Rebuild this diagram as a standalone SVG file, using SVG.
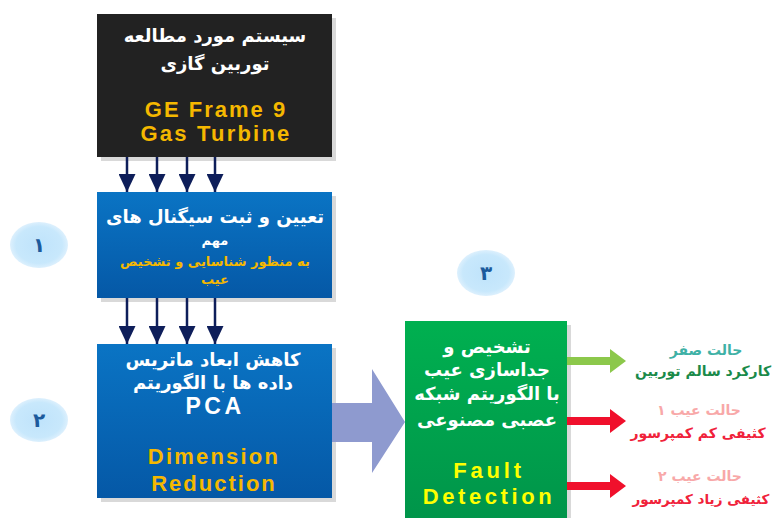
<svg xmlns="http://www.w3.org/2000/svg" width="774" height="518" viewBox="0 0 774 518">
<defs>
<linearGradient id="gBlue" x1="0" y1="0" x2="0" y2="1"><stop offset="0" stop-color="#0A74C4"/><stop offset="1" stop-color="#0558A6"/></linearGradient>
<linearGradient id="gGreen" x1="0" y1="0" x2="0" y2="1"><stop offset="0" stop-color="#00B050"/><stop offset="1" stop-color="#00954A"/></linearGradient>
<radialGradient id="gCirc" cx="0.5" cy="0.5" r="0.5"><stop offset="0" stop-color="#BFE3FB"/><stop offset="0.8" stop-color="#C8E8FC"/><stop offset="1" stop-color="#DDF0FD"/></radialGradient>
<marker id="ah" viewBox="0 0 18 17" refX="18" refY="8.5" markerWidth="18" markerHeight="17" markerUnits="userSpaceOnUse" orient="auto"><path d="M0,0 L18,8.5 L0,17 Z" fill="#0E1E5A"/></marker>
</defs>
<style>
.shadow{fill:#D9D9D9}
.fa{font-family:"DejaVu Sans",sans-serif;font-weight:bold;text-anchor:middle}
.en{font-family:"Liberation Sans",Arial,sans-serif;font-weight:bold;text-anchor:middle}
.w{fill:#FFFFFF}
.or{fill:#F5B800}
.ye{fill:#FFFF00}
.dl{stroke:#0E1E5A;stroke-width:2.5;fill:none}
.num{font-family:"DejaVu Sans",sans-serif;font-weight:bold;font-size:20px;fill:#1C5A9C;text-anchor:middle}
</style>
<rect width="774" height="518" fill="#FFFFFF"/>

<g id="node-system">
<rect class="shadow" x="101" y="18" width="235" height="143"/>
<rect x="97" y="14" width="235" height="143" fill="#222222"/>
<text class="fa w" x="215" y="42" font-size="18">سیستم مورد مطالعه</text>
<text class="fa w" x="215" y="70" font-size="18">توربین گازی</text>
<text class="en or" x="216" y="117" font-size="22" letter-spacing="2">GE Frame 9</text>
<text class="en or" x="216" y="141" font-size="22" letter-spacing="2.2">Gas Turbine</text>
</g>

<g id="node-signals">
<rect class="shadow" x="101" y="196" width="235" height="106"/>
<rect x="97" y="192" width="235" height="106" fill="url(#gBlue)"/>
<text class="fa w" x="215" y="223" font-size="18">تعیین و ثبت سیگنال های</text>
<text class="fa w" x="215" y="245" font-size="13">مهم</text>
<text class="fa or" x="215" y="266" font-size="13">به منظور شناسایی و تشخیص</text>
<text class="fa or" x="215" y="284" font-size="13">عیب</text>
</g>

<g id="node-pca">
<rect class="shadow" x="101" y="348" width="235" height="154"/>
<rect x="97" y="344" width="235" height="154" fill="url(#gBlue)"/>
<text class="fa w" x="213" y="366" font-size="18">کاهش ابعاد ماتریس</text>
<text class="fa w" x="213" y="389" font-size="18">داده ها با الگوریتم</text>
<text class="en w" x="215" y="414" font-size="23" letter-spacing="3.5">PCA</text>
<text class="en or" x="214" y="464" font-size="22" letter-spacing="2.2">Dimension</text>
<text class="en or" x="214" y="491" font-size="22" letter-spacing="2">Reduction</text>
</g>

<g id="node-fault">
<rect class="shadow" x="409" y="325" width="162" height="193"/>
<rect x="405" y="321" width="162" height="197" fill="url(#gGreen)"/>
<text class="fa w" x="487" y="353" font-size="18">تشخیص و</text>
<text class="fa w" x="487" y="376" font-size="18">جداسازی عیب</text>
<text class="fa w" x="487" y="400" font-size="18">با الگوریتم شبکه</text>
<text class="fa w" x="487" y="426" font-size="18">عصبی مصنوعی</text>
<text class="en ye" x="489" y="478" font-size="22" letter-spacing="3.8">Fault</text>
<text class="en ye" x="489" y="504" font-size="22" letter-spacing="3.6">Detection</text>
</g>

<g id="node-badge1">
<ellipse cx="39" cy="245" rx="29" ry="23" fill="url(#gCirc)"/>
<text class="num" x="39" y="252">۱</text>
</g>
<g id="node-badge2">
<ellipse cx="39" cy="420" rx="29" ry="22" fill="url(#gCirc)"/>
<text class="num" x="39" y="427">۲</text>
</g>
<g id="node-badge3">
<ellipse cx="486" cy="273" rx="29" ry="23" fill="url(#gCirc)"/>
<text class="num" x="486" y="280">۳</text>
</g>

<g id="node-out0">
<text class="fa" x="706" y="355" font-size="14" fill="#3FB1A6">حالت صفر</text>
<text class="fa" x="703" y="376" font-size="14" fill="#1A8A4A">کارکرد سالم توربین</text>
</g>
<g id="node-out1">
<text class="fa" x="699" y="415" font-size="14" fill="#F8A8A8">حالت عیب ۱</text>
<text class="fa" x="698" y="438" font-size="14" fill="#F0223A">کثیفی کم کمپرسور</text>
</g>
<g id="node-out2">
<text class="fa" x="700" y="481" font-size="14" fill="#F8A8A8">حالت عیب ۲</text>
<text class="fa" x="701" y="504" font-size="13.5" fill="#F0223A">کثیفی زیاد کمپرسور</text>
</g>

<g id="connectors">
<line class="dl" x1="127" y1="157" x2="127" y2="192" marker-end="url(#ah)"/>
<line class="dl" x1="157" y1="157" x2="157" y2="192" marker-end="url(#ah)"/>
<line class="dl" x1="187" y1="157" x2="187" y2="192" marker-end="url(#ah)"/>
<line class="dl" x1="215" y1="157" x2="215" y2="192" marker-end="url(#ah)"/>
<line class="dl" x1="127" y1="298" x2="127" y2="344" marker-end="url(#ah)"/>
<line class="dl" x1="157" y1="298" x2="157" y2="344" marker-end="url(#ah)"/>
<line class="dl" x1="187" y1="298" x2="187" y2="344" marker-end="url(#ah)"/>
<line class="dl" x1="215" y1="298" x2="215" y2="344" marker-end="url(#ah)"/>
<path d="M332,403 L372,403 L372,369 L405,422 L372,473 L372,442 L332,442 Z" fill="#8E9ACF"/>
<path d="M567,357 L610,357 L610,349 L626,361 L610,373 L610,365 L567,365 Z" fill="#8CC84B"/>
<path d="M567,417 L610,417 L610,409 L626,421 L610,433 L610,425 L567,425 Z" fill="#F0102C"/>
<path d="M567,482 L610,482 L610,474 L626,486 L610,498 L610,490 L567,490 Z" fill="#F0102C"/>
</g>
</svg>
